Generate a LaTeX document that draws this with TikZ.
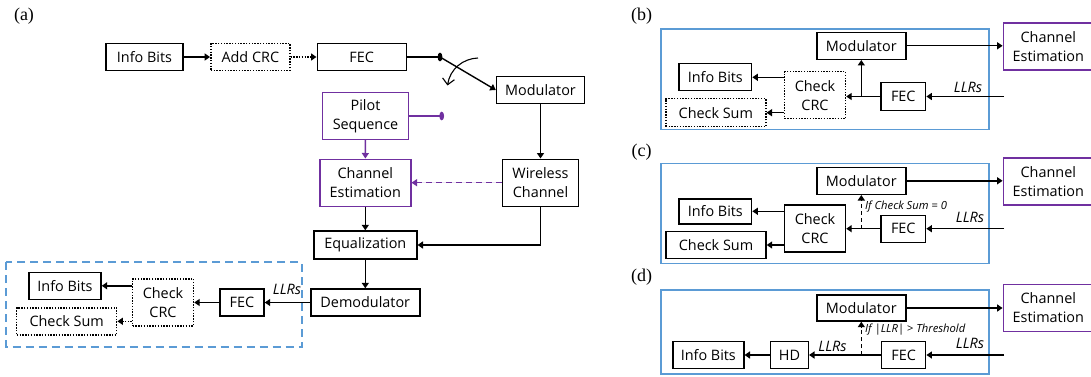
\documentclass[tikz,border=0pt]{standalone}
\usepackage{fontspec}
\setmainfont{Open Sans}
\newfontfamily\tagfont{Liberation Serif}
\usetikzlibrary{arrows.meta,shapes.geometric}
\definecolor{purp}{HTML}{7030A0}
\definecolor{frameblue}{HTML}{5B9BD5}
\begin{document}
\begin{tikzpicture}[x=1pt,y=-1pt,
  every node/.style={font=\fontsize{14.4}{19}\selectfont},
  blk/.style={draw, line width=1.4pt, inner sep=0pt, minimum height=27pt, align=center},
  dotblk/.style={blk, dash pattern=on 1.4pt off 1.4pt},
  purpblk/.style={blk, draw=purp, minimum height=47pt},
  tagl/.style={font=\tagfont\fontsize{18}{20}\selectfont},
  arr/.style={line width=1.4pt, -{Triangle[length=5.5pt,width=7pt]}},
  dotarr/.style={arr, dash pattern=on 1.4pt off 1.4pt},
  dasharr/.style={arr, dash pattern=on 4pt off 3pt},
  parr/.style={arr, draw=purp, fill=purp},
  llr/.style={font=\fontsize{14.4}{19}\selectfont\itshape},
  cond/.style={font=\fontsize{11.2}{13}\selectfont\itshape, anchor=west, inner sep=0pt},
  panel/.style={draw=frameblue, line width=1.6pt},
  dot/.style={ellipse, inner sep=0pt, minimum width=4.8pt, minimum height=8.8pt}
]
\useasboundingbox (0,0) rectangle (1091,377);

% ---------------- (a) transmitter / receiver chain ----------------
\node[tagl] (ta) at (24,16) {(a)};
\node[blk, minimum width=77pt] (info) at (144.5,57) {Info Bits};
\node[dotblk, minimum width=79pt] (addcrc) at (250.3,57) {Add CRC};
\node[blk, minimum width=89pt] (fec) at (361.7,57) {FEC};
\node[dot, fill=black] (sw) at (440,57) {};
\node[blk, minimum width=88pt] (mod) at (540.5,90) {Modulator};
\node[purpblk, minimum width=86pt] (pilot) at (365.5,116) {Pilot\\Sequence};
\node[dot, fill=purp] (pdot) at (441.7,116) {};
\node[purpblk, minimum width=91pt] (chest) at (365.3,182.7) {Channel\\Estimation};
\node[blk, minimum width=76pt, minimum height=47pt] (wc) at (540.5,182.7) {Wireless\\Channel};
\node[blk, minimum width=103pt, minimum height=28pt] (eq) at (365.3,245) {Equalization};
\node[blk, minimum width=109pt] (demod) at (365.3,302.5) {Demodulator};

\draw[arr] (info) -- (addcrc);
\draw[dotarr] (addcrc) -- (fec);
\draw[line width=1.4pt] (fec.east) -- (sw.center);
\draw[arr] (sw.center) -- (mod.west);
% switch symbol
\coordinate (swa) at (478,58);
\coordinate (swb) at (447.5,85.5);
\draw[line width=1.1pt, -{Straight Barb[length=6pt,width=12pt]}] (swa) .. controls (463,58.5) and (450,69) .. (swb);
\draw[line width=1.4pt, draw=purp] (pilot.east) -- (pdot.center);
\draw[parr] (pilot) -- (chest);
\draw[arr] (mod) -- (wc);
\draw[parr, dash pattern=on 6pt off 4pt] (wc) -- (chest);
\draw[arr] (chest) -- (eq);
\draw[arr] (wc.south) |- (eq.east);
\draw[arr] (eq) -- (demod);

% receiver block
\draw[draw=frameblue, line width=1.9pt, dash pattern=on 8pt off 5pt] (6,262.3) rectangle (301.7,346.7);
\node[blk, minimum width=44pt] (fecr) at (242,302.5) {FEC};
\node[dotblk, minimum width=61pt, minimum height=47pt] (crcr) at (163,302.3) {Check\\CRC};
\node[blk, minimum width=72pt] (infor) at (65,285.8) {Info Bits};
\node[dotblk, minimum width=100pt] (sumr) at (66.7,321.3) {Check Sum};
\draw[arr] (demod) -- (fecr);
\node[llr] (llra) at (287,289) {LLRs};
\draw[arr] (fecr.west) -- (fecr.west -| crcr.east);
\draw[arr] (crcr.west |- infor.east) -- (infor.east);
\draw[dotarr] (crcr.west |- sumr.east) -- (sumr.east);

% ---------------- (b) ----------------
\node[tagl] (tb) at (641.5,16.5) {(b)};
\draw[panel] (661,29.3) rectangle (988.7,129.3);
\node[blk, minimum width=89pt] (modb) at (861.3,45.8) {Modulator};
\node[purpblk, minimum width=90pt] (ceb) at (1048.3,46.7) {Channel\\Estimation};
\node[blk, minimum width=72.7pt] (infob) at (715.3,77.3) {Info Bits};
\node[dotblk, minimum width=61pt, minimum height=47pt] (crcb) at (815,95.3) {Check\\CRC};
\node[dotblk, minimum width=100pt, minimum height=28pt] (sumb) at (715.8,112.7) {Check Sum};
\node[blk, minimum width=44.7pt, minimum height=28pt] (fecb) at (903.3,96.5) {FEC};
\coordinate (inb) at (1004,96.5);
\coordinate (bb) at (modb.south |- fecb.west);
\node[llr] (llrb) at (968,87) {LLRs};
\draw[arr] (modb.east) -- (modb.east -| ceb.west);
\draw[arr] (inb) -- (fecb.east);
\draw[arr] (fecb.west) -- (fecb.west -| crcb.east);
\draw[arr] (bb) -- (modb.south);
\draw[arr] (crcb.west |- infob.east) -- (infob.east);
\draw[arr] (crcb.west |- sumb.east) -- (sumb.east);

% ---------------- (c) ----------------
\node[tagl] (tc) at (641.5,151.7) {(c)};
\draw[panel] (661,163.3) rectangle (988.7,263.3);
\node[blk, minimum width=89pt] (modc) at (861.3,180.8) {Modulator};
\node[purpblk, minimum width=90pt] (cec) at (1048.3,181.3) {Channel\\Estimation};
\node[blk, minimum width=72.7pt, minimum height=25pt] (infoc) at (715.3,211.3) {Info Bits};
\node[blk, minimum width=61pt, minimum height=47pt] (crcc) at (815,228.3) {Check\\CRC};
\node[blk, minimum width=100pt] (sumc) at (716,245) {Check Sum};
\node[blk, minimum width=44.7pt] (fecc) at (903.3,228.7) {FEC};
\coordinate (inc) at (1004,228.7);
\coordinate (bc) at (modc.south |- fecc.west);
\node[llr] (llrc) at (970,217) {LLRs};
\node[cond] (condc) at (865,206.7) {If Check Sum = 0};
\draw[arr] (modc.east) -- (modc.east -| cec.west);
\draw[arr] (inc) -- (fecc.east);
\draw[arr] (fecc.west) -- (fecc.west -| crcc.east);
\draw[dasharr] (bc) -- (modc.south);
\draw[arr] (crcc.west |- infoc.east) -- (infoc.east);
\draw[arr] (crcc.west |- sumc.east) -- (sumc.east);

% ---------------- (d) ----------------
\node[tagl] (td) at (641.5,277.5) {(d)};
\draw[panel] (661,290) rectangle (988.7,374);
\node[blk, minimum width=89pt, minimum height=26pt] (modd) at (861.3,308) {Modulator};
\node[purpblk, minimum width=90pt] (ced) at (1048.3,308) {Channel\\Estimation};
\node[blk, minimum width=71pt] (infod) at (708.3,355) {Info Bits};
\node[blk, minimum width=37.6pt] (hd) at (789.5,355) {HD};
\node[blk, minimum width=44pt] (fecd) at (903.7,355) {FEC};
\coordinate (ind) at (1004,355);
\coordinate (bd) at (modd.south |- fecd.west);
\node[llr] (llrd) at (970,343) {LLRs};
\node[llr] (llrm) at (832.5,346.5) {LLRs};
\node[cond] (condd) at (865,330) {If |LLR| > Threshold};
\draw[arr] (modd.east) -- (modd.east -| ced.west);
\draw[arr] (ind) -- (fecd.east);
\draw[arr] (fecd) -- (hd);
\draw[dasharr] (bd) -- (modd.south);
\draw[arr] (hd) -- (infod);
\end{tikzpicture}
\end{document}
